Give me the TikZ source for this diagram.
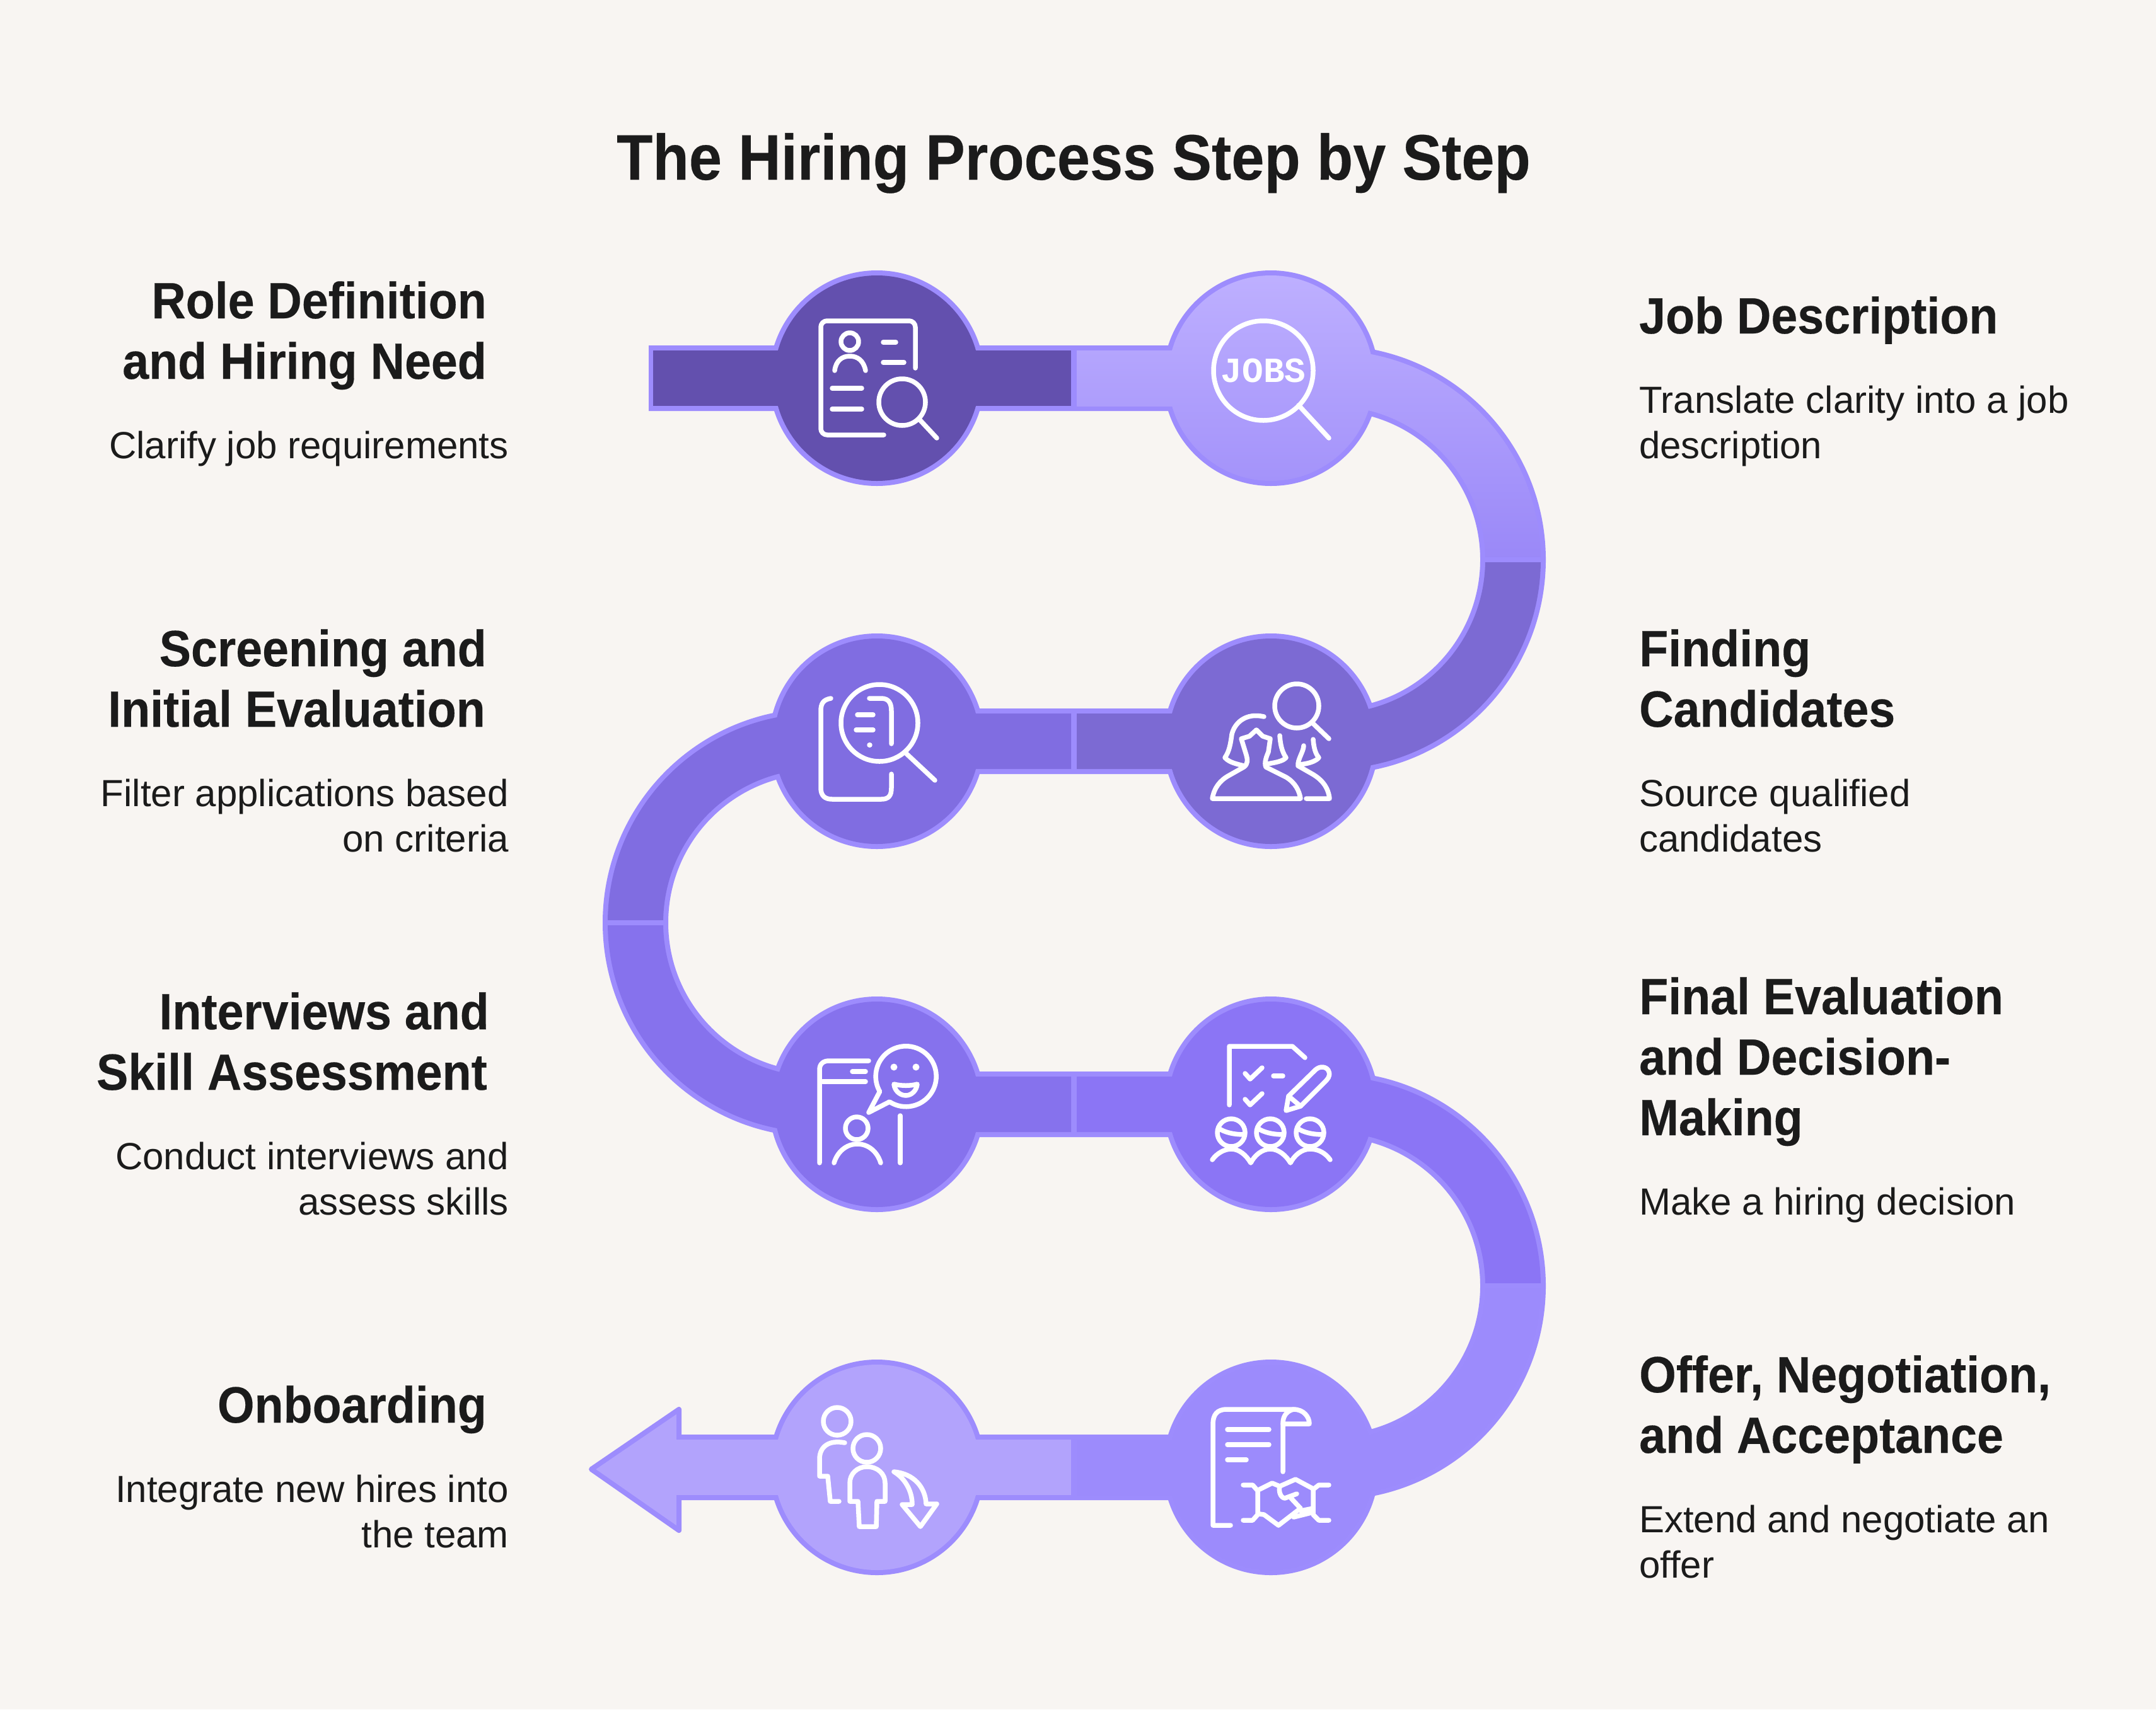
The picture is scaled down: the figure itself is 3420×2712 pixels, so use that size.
\documentclass[tikz,border=0pt]{standalone}
\usepackage{fontspec}
\setmainfont{Liberation Sans}
\newfontfamily\jobsfont{Liberation Mono}
\newfontfamily\titlefont[FakeStretch=0.92,FakeBold=0.25]{Liberation Sans}
\newfontfamily\headfont[FakeStretch=0.93,FakeBold=0.25]{Liberation Sans}
\newfontfamily\bodyfont{Liberation Sans}
\definecolor{bgc}{HTML}{F8F5F2}
\definecolor{edgec}{HTML}{9D8CFD}
\definecolor{cA}{HTML}{6350AE}
\definecolor{cBtop}{HTML}{BEB0FF}
\definecolor{cBbot}{HTML}{9A88F8}
\definecolor{cC}{HTML}{7C6AD3}
\definecolor{cD}{HTML}{806DE1}
\definecolor{cE}{HTML}{8672ED}
\definecolor{cF}{HTML}{8B75F5}
\definecolor{cG}{HTML}{9C8BFC}
\definecolor{cH}{HTML}{B2A3FC}
\definecolor{inkc}{HTML}{1B1B1B}
\tikzset{
  edgeband/.style={line width=104pt,edgec,line cap=butt},
  fillband/.style={line width=88pt,line cap=butt},
  seamline/.style={edgec,line width=8pt,line cap=butt},
  edgedisc/.style={circle,fill=edgec,minimum size=342pt,inner sep=0pt,outer sep=0pt},
  filldisc/.style={circle,minimum size=326pt,inner sep=0pt,outer sep=0pt},
  ico/.style={white,line width=7.5pt,line cap=round,line join=round},
  headL/.style={anchor=base east,inner sep=0pt,text=inkc,font=\headfont\bfseries\fontsize{81}{96}\selectfont},
  headR/.style={anchor=base west,inner sep=0pt,text=inkc,font=\headfont\bfseries\fontsize{81}{96}\selectfont},
  bodyL/.style={anchor=base east,inner sep=0pt,text=inkc,font=\bodyfont\fontsize{60}{72}\selectfont},
  bodyR/.style={anchor=base west,inner sep=0pt,text=inkc,font=\bodyfont\fontsize{60}{72}\selectfont},
}
\begin{document}
\begin{tikzpicture}[x=1pt,y=1pt,yscale=-1]
\fill[bgc] (0,0) rectangle (3420,2712);
\useasboundingbox (0,0) rectangle (3420,2712);
% silhouette
\draw[edgeband] (1029,600) -- (2112,600) arc (-90:90:288pt) -- (1296,1176) arc (270:90:288pt) -- (2112,1752) arc (-90:90:288pt) -- (1060,2328);
\node[edgedisc] (o1) at (1391,600) {};
\node[edgedisc] (o2) at (2016,600) {};
\node[edgedisc] (o3) at (2016,1176) {};
\node[edgedisc] (o4) at (1391,1176) {};
\node[edgedisc] (o5) at (1391,1752) {};
\node[edgedisc] (o6) at (2016,1752) {};
\node[edgedisc] (o7) at (2016,2328) {};
\node[edgedisc] (o8) at (1391,2328) {};
% arrow head
\draw[edgec,line width=8pt,fill=cH,line join=round] (1077,2236) -- (938,2331) -- (1077,2428) -- cycle;
% segment 1
\draw[fillband,cA] (1036,600) -- (1699,600);
\node[filldisc,fill=cA] (d1) at (1391,600) {};
% segment 2 (gradient)
\begin{scope}
\clip (1708,556) rectangle (2112,644);
\shade[top color=cBtop,bottom color=cBbot] (1700,430) rectangle (2460,888);
\end{scope}
\begin{scope}
\clip (2016,600) circle (163pt);
\shade[top color=cBtop,bottom color=cBbot] (1700,430) rectangle (2460,888);
\end{scope}
\begin{scope}
\clip (2112,556) arc (-90:0:332pt) -- (2356,888) arc (0:-90:244pt) -- cycle;
\shade[top color=cBtop,bottom color=cBbot] (1700,430) rectangle (2460,888);
\end{scope}
% segment 3
\draw[fillband,cC] (2400,888) arc (0:90:288pt) -- (1708,1176);
\node[filldisc,fill=cC] (d3) at (2016,1176) {};
% segment 4
\draw[fillband,cD] (1699,1176) -- (1296,1176) arc (270:180:288pt);
\node[filldisc,fill=cD] (d4) at (1391,1176) {};
% segment 5
\draw[fillband,cE] (1008,1464) arc (180:90:288pt) -- (1699,1752);
\node[filldisc,fill=cE] (d5) at (1391,1752) {};
% segment 6
\draw[fillband,cF] (1708,1752) -- (2112,1752) arc (-90:0:288pt);
\node[filldisc,fill=cF] (d6) at (2016,1752) {};
% segment 7
\draw[fillband,cG] (2400,2040) arc (0:90:288pt) -- (1708,2328);
\node[filldisc,fill=cG] (d7) at (2016,2328) {};
% segment 8
\draw[fillband,cH] (1699,2328) -- (1070,2328);
\node[filldisc,fill=cH] (d8) at (1391,2328) {};
% seams between segments on the bends
\draw[seamline] (2352,888) -- (2448,888);
\draw[seamline] (960,1464) -- (1056,1464);
\draw[seamline] (2352,2040) -- (2448,2040);
% icon 1
\draw[ico,rounded corners=10pt] (1452,584) -- (1452,509) -- (1302,509) -- (1302,690) -- (1402,690);
\draw[ico] (1348,542) circle (14pt);
\draw[ico] (1324,588) .. controls (1326,572) and (1336,565) .. (1348,565) .. controls (1360,565) and (1370,572) .. (1373,588);
\draw[ico] (1401,543) -- (1421,543) (1401,575) -- (1434,575) (1320,616) -- (1367,616) (1320,649) -- (1367,649);
\draw[ico] (1431,638) circle (37pt);
\draw[ico] (1458,665) -- (1486,695);
% icon 2
\draw[ico] (2004,588) circle (79pt);
\draw[ico] (2060,643) -- (2108,695);
\node[white,inner sep=0pt,font=\jobsfont\bfseries\fontsize{56}{56}\selectfont] (jobs) at (2004,588) {JOBS};
% icon 3
\draw[ico] (2057,1120) circle (35pt);
\draw[ico] (2083,1148) -- (2108,1172);
\draw[ico] (2005,1137) .. controls (1975,1130) and (1958,1148) .. (1954,1165) .. controls (1952,1180) and (1950,1192) .. (1943,1202) .. controls (1950,1210) and (1962,1212) .. (1973,1215);
\draw[ico] (1973,1217) .. controls (1980,1212) and (1979,1205) .. (1977,1198) -- (1969,1172) -- (1982,1168) -- (1993,1158) -- (2003,1168) -- (2015,1172) -- (2012,1193) .. controls (2009,1200) and (2005,1210) .. (2008,1217) -- (2040,1233) .. controls (2055,1242) and (2061,1255) .. (2063,1267) -- (1923,1267) .. controls (1926,1250) and (1935,1238) .. (1950,1230) -- cycle;
\draw[ico] (2030,1167) .. controls (2031,1180) and (2033,1192) .. (2040,1202) .. controls (2035,1208) and (2022,1210) .. (2010,1212);
\draw[ico] (2083,1173) .. controls (2084,1185) and (2086,1195) .. (2092,1202) .. controls (2087,1208) and (2075,1212) .. (2060,1213);
\draw[ico] (2068,1183) .. controls (2068,1192) and (2058,1205) .. (2059,1215) -- (2080,1227) .. controls (2098,1237) and (2107,1250) .. (2109,1267) -- (2072,1267);
% icon 4
\draw[ico] (1318,1108) .. controls (1306,1110) and (1302,1116) .. (1302,1128) -- (1302,1250) .. controls (1302,1262) and (1308,1268) .. (1320,1268) -- (1398,1268) .. controls (1410,1268) and (1414,1262) .. (1414,1250) -- (1414,1228);
\draw[ico] (1395,1147) circle (61pt);
\draw[ico] (1437,1195) -- (1483,1238);
\draw[ico] (1379,1108) -- (1398,1108) .. controls (1410,1108) and (1414,1116) .. (1414,1128) -- (1414,1180);
\draw[ico] (1360,1134) -- (1385,1134) (1358,1158) -- (1385,1158) (1379,1182) -- (1380,1182);
% icon 5
\draw[ico] (1300,1845) -- (1300,1697) .. controls (1300,1688) and (1306,1683) .. (1315,1683) -- (1378,1683);
\draw[ico] (1352,1700) -- (1373,1700) (1305,1716) -- (1373,1716);
\draw[ico] (1428,1770) -- (1428,1845);
\draw[ico] (1359,1790) circle (18pt);
\draw[ico] (1323,1845) .. controls (1328,1828) and (1342,1815) .. (1360,1815) .. controls (1378,1815) and (1392,1828) .. (1397,1845);
\draw[ico] (1411,1748) arc (123:-210:48pt) -- (1378,1765) -- cycle;
\fill[white] (1418,1693) circle (5.5pt) (1453,1693) circle (5.5pt);
\draw[ico] (1418,1720) .. controls (1430,1723) and (1444,1723) .. (1455,1720) .. controls (1454,1730) and (1446,1738) .. (1437,1738) .. controls (1427,1738) and (1419,1730) .. (1418,1720) -- cycle;
% icon 6
\draw[ico] (1950,1753) -- (1950,1660) -- (2050,1660) -- (2070,1678);
\draw[ico] (1975,1703) -- (1983,1712) -- (2002,1694) (1975,1744) -- (1983,1753) -- (2002,1735);
\draw[ico] (2020,1707) -- (2035,1707);
\draw[ico] (2040,1762) -- (2044,1739) -- (2087,1697) .. controls (2094,1691) and (2103,1692) .. (2107,1698) .. controls (2110,1703) and (2109,1709) .. (2104,1714) -- (2063,1755) -- cycle;
\draw[ico] (2044,1739) -- (2063,1755);
\foreach \hx in {1953,2015,2078}{
  \draw[ico] (\hx,1797) circle (22pt);
  \draw[ico] (\hx-20,1790) .. controls (\hx-10,1797) and (\hx+5,1800) .. (\hx+21,1800);
}
\draw[ico] (1923,1840) .. controls (1930,1830) and (1942,1823) .. (1953,1823) .. controls (1966,1823) and (1977,1833) .. (1984,1845) .. controls (1990,1833) and (2002,1823) .. (2015,1823) .. controls (2028,1823) and (2040,1833) .. (2047,1845) .. controls (2053,1833) and (2065,1823) .. (2078,1823) .. controls (2092,1823) and (2103,1830) .. (2110,1840);
% icon 7
\draw[ico] (1952,2420) -- (1924,2420) -- (1924,2260) .. controls (1924,2245) and (1930,2236) .. (1946,2236) -- (2052,2236) .. controls (2068,2236) and (2077,2248) .. (2077,2259) -- (2035,2259);
\draw[ico] (2035,2335) -- (2035,2258) .. controls (2035,2246) and (2042,2238) .. (2052,2236);
\draw[ico] (1947,2268) -- (2013,2268) (1947,2292) -- (2013,2292) (1947,2316) -- (1977,2316);
\draw[ico] (1972,2356) -- (1987,2356) -- (1995,2365) -- (1995,2403) -- (1987,2412) -- (1972,2412);
\draw[ico] (2108,2356) -- (2092,2356) -- (2083,2363) -- (2083,2403) -- (2092,2412) -- (2108,2412);
\draw[ico] (1998,2363) -- (2018,2353) -- (2030,2358) -- (2055,2347) -- (2083,2362);
\draw[ico] (2030,2358) .. controls (2028,2366) and (2031,2376) .. (2038,2377) -- (2057,2370);
\draw[ico] (2048,2377) -- (2063,2393) -- (2028,2420) -- (2005,2403) -- (1998,2402);
\draw[ico] (2063,2397) -- (2083,2393) (2052,2407) -- (2080,2400);
% icon 8
\draw[ico] (1328,2255) circle (22pt);
\draw[ico] (1340,2289) .. controls (1315,2284) and (1300,2295) .. (1300,2315) -- (1300,2342) -- (1313,2342) -- (1317,2382) -- (1331,2382);
\draw[ico] (1375,2298) circle (22pt);
\draw[ico] (1348,2382) -- (1348,2353) .. controls (1348,2338) and (1360,2327) .. (1375,2327) .. controls (1392,2327) and (1404,2338) .. (1404,2353) -- (1404,2382) -- (1391,2382) -- (1390,2422) -- (1363,2422) -- (1361,2382) -- cycle;
\draw[ico] (1418,2335) .. controls (1450,2338) and (1468,2360) .. (1469,2386) -- (1486,2386) -- (1460,2422) -- (1431,2387) -- (1447,2387) .. controls (1447,2365) and (1435,2345) .. (1418,2335) -- cycle;
% title
\node[anchor=base,inner sep=0pt,text=inkc,font=\titlefont\bfseries\fontsize{102}{110}\selectfont] (title) at (1703,285) {The Hiring Process Step by Step};
% left texts
\node[headL] (h1) at (772,505) {Role Definition};
\node[headL] (h1b) at (772,601) {and Hiring Need};
\node[bodyL] (b1) at (807,727) {Clarify job requirements};
\node[headL] (h4) at (772,1057) {Screening and};
\node[headL] (h4b) at (770,1153) {Initial Evaluation};
\node[bodyL] (b4) at (807,1279) {Filter applications based};
\node[bodyL] (b4b) at (807,1351) {on criteria};
\node[headL] (h5) at (776,1633) {Interviews and};
\node[headL] (h5b) at (773,1729) {Skill Assessment};
\node[bodyL] (b5) at (807,1855) {Conduct interviews and};
\node[bodyL] (b5b) at (807,1927) {assess skills};
\node[headL] (h8) at (772,2257) {Onboarding};
\node[bodyL] (b8) at (807,2383) {Integrate new hires into};
\node[bodyL] (b8b) at (807,2455) {the team};
% right texts
\node[headR] (h2) at (2600,529) {Job Description};
\node[bodyR] (b2) at (2600,655) {Translate clarity into a job};
\node[bodyR] (b2b) at (2600,727) {description};
\node[headR] (h3) at (2600,1057) {Finding};
\node[headR] (h3b) at (2600,1153) {Candidates};
\node[bodyR] (b3) at (2600,1279) {Source qualified};
\node[bodyR] (b3b) at (2600,1351) {candidates};
\node[headR] (h6) at (2600,1609) {Final Evaluation};
\node[headR] (h6b) at (2600,1705) {and Decision-};
\node[headR] (h6c) at (2600,1801) {Making};
\node[bodyR] (b6) at (2600,1927) {Make a hiring decision};
\node[headR] (h7) at (2600,2209) {Offer, Negotiation,};
\node[headR] (h7b) at (2600,2305) {and Acceptance};
\node[bodyR] (b7) at (2600,2431) {Extend and negotiate an};
\node[bodyR] (b7b) at (2600,2503) {offer};
\end{tikzpicture}
\end{document}
